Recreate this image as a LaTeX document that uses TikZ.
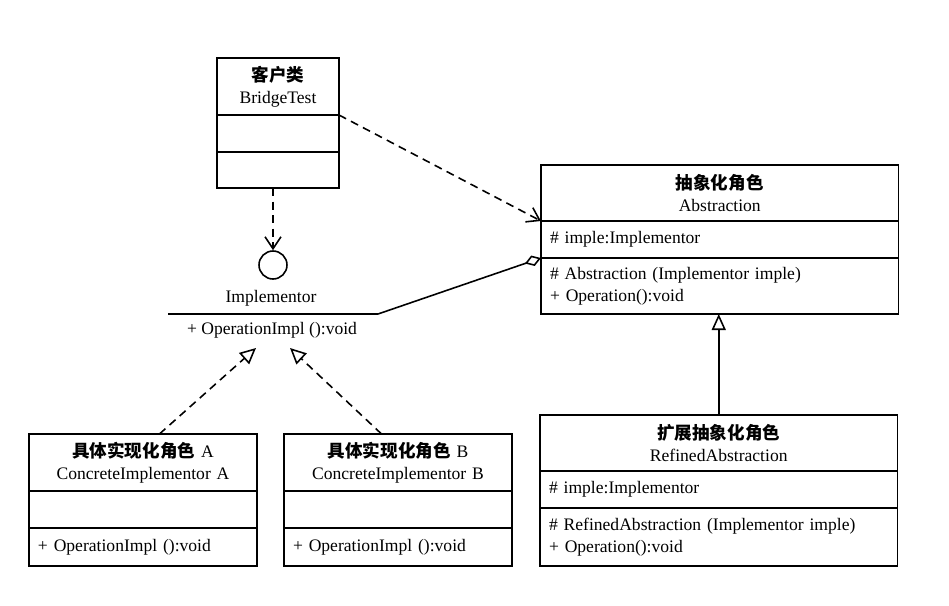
\documentclass[tikz,border=0pt]{standalone}
\usepackage{fontspec}
\setmainfont{Liberation Serif}
\newfontfamily\cjk{Noto Sans CJK SC}
\usepackage{tikz}
\usetikzlibrary{positioning,arrows.meta,shapes}
\tikzset{box/.style={draw,line width=0.9pt,outer sep=0pt,inner xsep=1.8mm,
inner ysep=0pt,font=\fontsize{10}{12.5}\selectfont},
head node/.style={box,text width=#1,align=center,minimum height=11.3mm},
part node/.style={box,text width=#1,align=left},
dep/.style={line width=0.9pt,dash pattern=on 1.6mm off 1.1mm,
-{Straight Barb[length=2.4mm,width=3.2mm]}},
realize/.style={line width=0.9pt,dash pattern=on 1.6mm off 1.1mm,
-{Triangle[open,length=3.2mm,width=3mm]}},
inherit/.style={line width=0.9pt,-{Triangle[open,length=3.2mm,width=2.8mm]}},
agg/.style={line width=0.9pt,-{Diamond[open,length=3.4mm,width=2.2mm]}}}

\begin{document}
\begin{tikzpicture}[x=0.2mm,y=-0.2mm]
\useasboundingbox (0,0) rectangle (949,605);
\node[head node=20.8mm,anchor=north west,minimum height=11.4mm] (0) at (217,58) {{\cjk\bfseries 客户类}\\BridgeTest};
\node[part node=20.8mm,minimum height=7.4mm] (0a) [below=0pt of 0] {};
\node[part node=20.8mm,minimum height=7.2mm] (0b) [below=0pt of 0a] {};

\node[head node=67.9mm,anchor=north west,minimum height=11.2mm] (1) at (541,165) {{\cjk\bfseries 抽象化角色}\\Abstraction};
\node[part node=67.9mm,minimum height=7.4mm] (1a) [below=0pt of 1] {\# imple:Implementor};
\node[part node=67.9mm,minimum height=11.2mm] (1b) [below=0pt of 1a] {\# Abstraction (Implementor imple)\\+ Operation():void};

\node[head node=67.9mm,anchor=north west,minimum height=11.2mm] (2) at (540,415) {{\cjk\bfseries 扩展抽象化角色}\\RefinedAbstraction};
\node[part node=67.9mm,minimum height=7.4mm] (2a) [below=0pt of 2] {\# imple:Implementor};
\node[part node=67.9mm,minimum height=11.6mm] (2b) [below=0pt of 2a] {\# RefinedAbstraction (Implementor imple)\\+ Operation():void};

\node[head node=42mm,anchor=north west,minimum height=11.4mm] (3) at (29,434) {{\cjk\bfseries 具体实现化角色} A\\ConcreteImplementor A};
\node[part node=42mm,minimum height=7.4mm] (3a) [below=0pt of 3] {};
\node[part node=42mm,minimum height=7.6mm] (3b) [below=0pt of 3a] {+ OperationImpl ():void};

\node[head node=42mm,anchor=north west,minimum height=11.4mm] (4) at (284,434) {{\cjk\bfseries 具体实现化角色} B\\ConcreteImplementor B};
\node[part node=42mm,minimum height=7.4mm] (4a) [below=0pt of 4] {};
\node[part node=42mm,minimum height=7.6mm] (4b) [below=0pt of 4a] {+ OperationImpl ():void};

\node[circle,draw,line width=0.9pt,minimum size=5.6mm,inner sep=0pt] (5) at (273,265) {};
\node[font=\fontsize{10}{12.5}\selectfont] (6) at (271,298) {Implementor};
\coordinate (7a) at (168,314);
\coordinate (7b) at (378,314);
\node[font=\fontsize{10}{12.5}\selectfont] (8) at (272,330) {+ OperationImpl ():void};
\coordinate (9a) at (256,348);
\coordinate (9b) at (290,348);

\path[draw,line width=0.9pt] (7a) -- (7b);
\path[draw,dep] (0b.south -| 5) -- (5.north);
\path[draw,dep] (0.south east) -- (1.south west);
\path[draw,agg] (7b) -- (1a.south west);
\path[draw,inherit] (2.north) -- (2.north |- 1b.south);
\path[draw,realize] (3.60) -- (9a);
\path[draw,realize] (4.120) -- (9b);
\end{tikzpicture}
\end{document}
